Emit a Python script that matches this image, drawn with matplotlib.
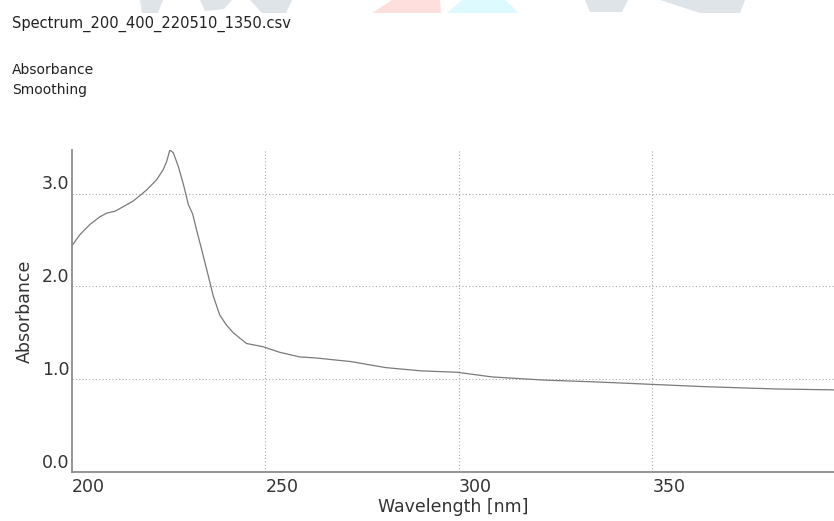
#UV-Vis absorbance spectrum, 200-400 nm
#redrawn from a screenshot of the instrument software

import numpy as np
import matplotlib
matplotlib.use('Agg')
import matplotlib.pyplot as plt
import matplotlib.transforms as mtrans
from matplotlib.patches import Polygon

#Spectrum values
wavelength = [200.0, 202.1, 204.7, 207.2, 209.0, 211.1, 213.3, 215.8, 217.6, 219.3,
              221.9, 223.6, 224.5, 225.3, 226.2, 227.5, 228.8, 230.1, 231.2, 232.2,
              233.5, 235.2, 236.5, 238.2, 240.0, 241.7, 245.1, 249.4, 253.7, 258.9,
              262.8, 272.1, 281.1, 290.2, 299.5, 308.5, 322.2, 335.9, 349.6, 363.3,
              381.7, 397.0]
absorbance = [2.44, 2.56, 2.67, 2.75, 2.79, 2.81, 2.86, 2.92, 2.98, 3.04,
              3.15, 3.26, 3.35, 3.47, 3.44, 3.29, 3.10, 2.88, 2.78, 2.61,
              2.40, 2.12, 1.90, 1.69, 1.58, 1.50, 1.385, 1.35, 1.29, 1.24,
              1.23, 1.19, 1.125, 1.09, 1.075, 1.025, 0.99, 0.97, 0.945, 0.92,
              0.895, 0.885]

xticks = [200, 250, 300, 350]
yticks = [0.0, 1.0, 2.0, 3.0]
header = ['Spectrum_200_400_220510_1350.csv', 'Absorbance', 'Smoothing']

fig = plt.figure(figsize=(8.34, 5.21), dpi=100)
W, H = 834, 521

#faint watermark pieces along the top edge
wm = [([(140, 0), (163, 0), (158, 13), (142, 13)], '#dfe4e9'),
      ([(200, 0), (232, 0), (224, 9), (205, 11)], '#dfe4e9'),
      ([(250, 0), (292, 0), (286, 13), (262, 13)], '#dfe4e9'),
      ([(372, 13), (392, 0), (440, 0), (441, 13)], '#ffdede'),
      ([(447, 13), (462, 0), (505, 0), (519, 13)], '#dcfaff'),
      ([(585, 0), (628, 0), (622, 12), (590, 12)], '#dfe4e9'),
      ([(660, 0), (745, 0), (740, 13), (700, 13)], '#dfe4e9')]
for pts, col in wm:
    xy = [(px / W, 1 - py / H) for px, py in pts]
    fig.patches.append(Polygon(xy, closed=True, transform=fig.transFigure,
                               facecolor=col, edgecolor='none'))

#header lines
fig.text(12 / W, 1 - 28 / H, header[0], fontsize=10.5, color='#222222', va='baseline')
fig.text(12 / W, 1 - 74 / H, header[1], fontsize=10, color='#222222', va='baseline')
fig.text(12 / W, 1 - 94 / H, header[2], fontsize=10, color='#222222', va='baseline')

ax = fig.add_axes([72 / W, 1 - 472 / H, (W - 72) / W, (472 - 150) / H])
ax.plot(wavelength, absorbance, color='#7a7a7a', lw=0.9)

ax.set_xlim(200, 397)
ax.set_ylim(0.027, 3.47)
ax.set_xticks(xticks)
ax.set_yticks(yticks)
ax.set_xticklabels([str(v) for v in xticks])
ax.set_yticklabels(['%.1f' % v for v in yticks])
ax.tick_params(length=0, labelsize=12.5, colors='#333333')
ax.tick_params(axis='x', pad=4)
ax.tick_params(axis='y', pad=2)

#labels sit to the upper-left / lower-right of the tick like the original software
for t in ax.get_xticklabels():
    t.set_ha('left')
for t in ax.get_yticklabels():
    t.set_va('baseline')
    t.set_transform(t.get_transform() + mtrans.ScaledTranslation(0, 3 / 72, fig.dpi_scale_trans))

ax.grid(True, ls=(0, (1, 2)), color='#aaaaaa', lw=0.8)
ax.xaxis.grid(True)
for gl, v in zip(ax.get_xgridlines(), xticks):
    if v == 200:
        gl.set_visible(False)
for gl, v in zip(ax.get_ygridlines(), yticks):
    if v == 0.0:
        gl.set_visible(False)

for s in ['top', 'right']:
    ax.spines[s].set_visible(False)
for s in ['left', 'bottom']:
    ax.spines[s].set_color('#8c8c8c')
    ax.spines[s].set_linewidth(1.3)

ax.set_xlabel('Wavelength [nm]', fontsize=12.5, color='#333333', labelpad=2)
ax.set_ylabel('Absorbance', fontsize=12.5, color='#333333', labelpad=6)

fig.savefig('out.png', dpi=100)
